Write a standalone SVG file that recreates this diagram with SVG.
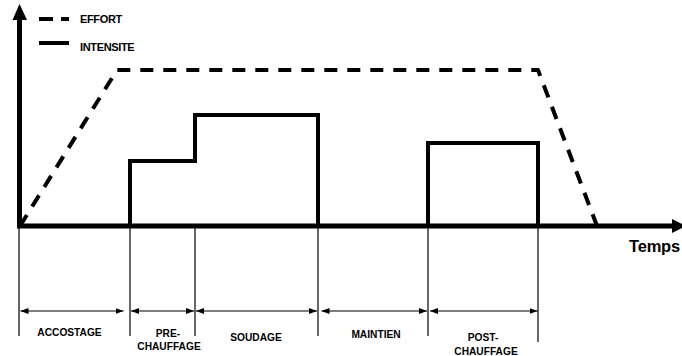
<svg xmlns="http://www.w3.org/2000/svg" width="682" height="356" viewBox="0 0 682 356">
<style>
.axis{stroke:#000;stroke-width:5;fill:none}
.effort{stroke:#000;stroke-width:4;fill:none;stroke-dasharray:13 10;stroke-linejoin:round}
.intens{stroke:#000;stroke-width:4;fill:none;stroke-linejoin:miter}
.thin{stroke:#000;stroke-width:1.2;fill:none}
.dim{stroke:#000;stroke-width:1.2;fill:none;marker-start:url(#ah);marker-end:url(#ah)}
text{font-family:"Liberation Sans",Arial,sans-serif;font-weight:bold;fill:#000}
.lbl{font-size:10.2px;text-anchor:middle}
.leg{font-size:11px;letter-spacing:-0.35px}
</style>
<defs>
<marker id="ah" viewBox="0 0 8 6" refX="8" refY="3" markerWidth="8" markerHeight="6" markerUnits="userSpaceOnUse" orient="auto-start-reverse">
<path d="M0,0 L8,3 L0,6 Z" fill="#000"/>
</marker>
</defs>
<g id="axes">
<line class="axis" x1="19.5" y1="228" x2="19.5" y2="18"/>
<polygon points="12.5,20 19.5,4 27,20" fill="#000"/>
<line class="axis" x1="17" y1="226" x2="674" y2="226"/>
<polygon points="672,219 686,226 672,233" fill="#000"/>
<text x="629" y="252" style="font-size:16.5px;letter-spacing:-0.2px">Temps</text>
</g>
<g id="legend">
<line class="effort" x1="39" y1="19" x2="69" y2="19" style="stroke-dasharray:14 8"/>
<text class="leg" x="80" y="23">EFFORT</text>
<line class="intens" x1="39" y1="43" x2="69" y2="43"/>
<text class="leg" x="80" y="50.5">INTENSITE</text>
</g>
<g id="effort-curve">
<path class="effort" d="M20,226 L117,70 L538,70 L597,226"/>
</g>
<g id="intensite-curve">
<path class="intens" d="M130,226 V161 H195 V115 H318 V226"/>
<path class="intens" d="M428,226 V143 H538 V226"/>
</g>
<g id="connectors">
<line class="thin" x1="19" y1="228" x2="19" y2="336"/>
<line class="thin" x1="130" y1="228" x2="130" y2="336"/>
<line class="thin" x1="195" y1="228" x2="195" y2="336"/>
<line class="thin" x1="318" y1="228" x2="318" y2="336"/>
<line class="thin" x1="428" y1="228" x2="428" y2="336"/>
<line class="thin" x1="538" y1="228" x2="538" y2="342"/>
<line class="dim" x1="20.5" y1="311" x2="123.5" y2="311"/>
<line class="dim" x1="131" y1="311" x2="194" y2="311"/>
<line class="dim" x1="196" y1="311" x2="317" y2="311"/>
<line class="dim" x1="321.5" y1="311" x2="427" y2="311"/>
<line class="dim" x1="430" y1="311" x2="537.5" y2="311"/>
</g>
<g id="phase-accostage"><text class="lbl" x="69.5" y="335.5">ACCOSTAGE</text></g>
<g id="phase-prechauffage"><text class="lbl" x="168" y="336.5">PRE-</text><text class="lbl" x="169" y="350">CHAUFFAGE</text></g>
<g id="phase-soudage"><text class="lbl" x="256" y="340.5">SOUDAGE</text></g>
<g id="phase-maintien"><text class="lbl" x="376" y="338">MAINTIEN</text></g>
<g id="phase-postchauffage"><text class="lbl" x="483" y="341">POST-</text><text class="lbl" x="486" y="354.5">CHAUFFAGE</text></g>
</svg>
